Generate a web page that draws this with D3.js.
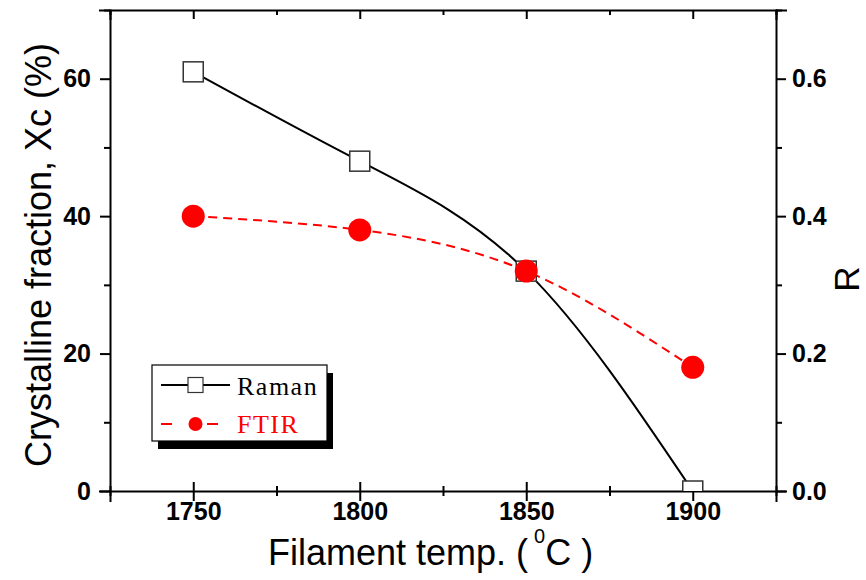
<!DOCTYPE html>
<html>
<head>
<meta charset="utf-8">
<script src="https://d3js.org/d3.v7.min.js"></script>
<style>
  body { margin: 0; background: #fff; }
  svg { display: block; }
  .tick text { font-family: Arial, "Liberation Sans", sans-serif; font-weight: bold; font-size: 25px; fill: #000; }
  .axis path, .axis line { stroke: #000; stroke-width: 2; }
  .title { font-family: Arial, "Liberation Sans", sans-serif; fill: #000; }
  .leg { font-family: "Times New Roman", "Liberation Serif", serif; font-size: 26px; letter-spacing: 1.5px; }
</style>
</head>
<body>
<svg width="866" height="580"></svg>
<script>
// data
var temps = [1750, 1800, 1850, 1900];
var ramanXc = [61, 48, 32, 0];
var ftirR = [0.40, 0.38, 0.32, 0.18];
var xTicks = [1750, 1800, 1850, 1900];
var xMinor = [1725, 1775, 1825, 1875, 1925];
var yLeftTicks = [0, 20, 40, 60];
var yLeftMinor = [10, 30, 50, 70];
var yRightTicks = [0, 0.2, 0.4, 0.6];
var yRightMinor = [0.1, 0.3, 0.5, 0.7];
var seriesNames = ["Raman", "FTIR"];

var svg = d3.select("svg");
var margin = { top: 10, right: 90, bottom: 89, left: 110 };
var W = 866 - margin.left - margin.right;
var H = 580 - margin.top - margin.bottom;

var x = d3.scaleLinear().domain([1725, 1925]).range([0, W]);
var yL = d3.scaleLinear().domain([0, 70]).range([H, 0]);
var yR = d3.scaleLinear().domain([0, 0.7]).range([H, 0]);

var g = svg.append("g").attr("transform", translate(margin.left, margin.top));

g.append("clipPath").attr("id", "clip")
  .append("rect").attr("width", W).attr("height", H);

// minor ticks
function minor(axisFn, vals, size) {
  return axisFn.tickValues(vals).tickSize(size).tickFormat("");
}

// bottom axis: ticks cross the line
var bx = g.append("g").attr("class", "axis").attr("transform", translate(0, H))
  .call(d3.axisBottom(x).tickValues(xTicks).tickSize(10).tickPadding(1).tickFormat(d3.format("d")));
bx.selectAll(".tick line").attr("y1", -9);
var bxm = g.append("g").attr("class", "axis").attr("transform", translate(0, H))
  .call(minor(d3.axisBottom(x), xMinor, 5));
bxm.selectAll(".tick line").attr("y1", -5);
bxm.select("path").remove();

// top axis: ticks point inward
g.append("g").attr("class", "axis")
  .call(d3.axisTop(x).tickValues(xTicks).tickSize(-9).tickFormat(""));
g.append("g").attr("class", "axis")
  .call(minor(d3.axisTop(x), xMinor, -5)).select("path").remove();

// left axis
g.append("g").attr("class", "axis")
  .call(d3.axisLeft(yL).tickValues(yLeftTicks).tickSize(10).tickPadding(9));
g.append("g").attr("class", "axis")
  .call(minor(d3.axisLeft(yL), yLeftMinor, 6)).select("path").remove();

// right axis
g.append("g").attr("class", "axis").attr("transform", translate(W, 0))
  .call(d3.axisRight(yR).tickValues(yRightTicks).tickSize(10).tickPadding(6).tickFormat(d3.format(".1f")));
g.append("g").attr("class", "axis").attr("transform", translate(W, 0))
  .call(minor(d3.axisRight(yR), yRightMinor, 6)).select("path").remove();

g.selectAll(".axis path.domain").attr("stroke-linecap", "square");

// series
var plot = g.append("g").attr("clip-path", "url(#clip)");
var raman = temps.map(function(t, i) { return { t: t, v: ramanXc[i] }; });
var ftir = temps.map(function(t, i) { return { t: t, v: ftirR[i] }; });

plot.append("path").datum(raman)
  .attr("fill", "none").attr("stroke", "#000").attr("stroke-width", 2)
  .attr("d", d3.line().curve(d3.curveNatural).x(function(d) { return x(d.t); }).y(function(d) { return yL(d.v); }));
plot.append("path").datum(ftir)
  .attr("fill", "none").attr("stroke", "#ff0000").attr("stroke-width", 2).attr("stroke-dasharray", "9,6")
  .attr("d", d3.line().curve(d3.curveNatural).x(function(d) { return x(d.t); }).y(function(d) { return yR(d.v); }));

plot.selectAll(".sq").data(raman).enter().append("rect")
  .attr("x", function(d) { return x(d.t) - 10; })
  .attr("y", function(d) { return yL(d.v) - 10; })
  .attr("width", 20).attr("height", 20)
  .attr("fill", "#fff").attr("stroke", "#333").attr("stroke-width", 1.5);
plot.selectAll(".dot").data(ftir).enter().append("circle")
  .attr("cx", function(d) { return x(d.t); })
  .attr("cy", function(d) { return yR(d.v); })
  .attr("r", 11.5).attr("fill", "#ff0000");

// legend
var lg = g.append("g").attr("transform", translate(42, 355));
lg.append("rect").attr("x", 6).attr("y", 8).attr("width", 175).attr("height", 76).attr("fill", "#000");
lg.append("rect").attr("x", 0).attr("y", 0).attr("width", 175).attr("height", 76)
  .attr("fill", "#fff").attr("stroke", "#000").attr("stroke-width", 1.2);
lg.append("line").attr("x1", 9).attr("x2", 78).attr("y1", 20).attr("y2", 20).attr("stroke", "#000").attr("stroke-width", 2);
lg.append("rect").attr("x", 36).attr("y", 12.5).attr("width", 15).attr("height", 15)
  .attr("fill", "#fff").attr("stroke", "#333").attr("stroke-width", 1.2);
lg.append("line").attr("x1", 9).attr("x2", 66).attr("y1", 59).attr("y2", 59)
  .attr("stroke", "#ff0000").attr("stroke-width", 2).attr("stroke-dasharray", "11,35,11,100");
lg.append("circle").attr("cx", 43.5).attr("cy", 59).attr("r", 7).attr("fill", "#ff0000");
lg.append("text").attr("class", "leg").attr("x", 85).attr("y", 30).attr("fill", "#000").text(seriesNames[0]);
lg.append("text").attr("class", "leg").attr("x", 85).attr("y", 68).attr("fill", "#ff0000").text(seriesNames[1]);

// axis titles
svg.append("text").attr("class", "title")
  .attr("transform", "translate(51,255) rotate(-90)")
  .attr("text-anchor", "middle").attr("font-size", 36)
  .text("Crystalline fraction, Xc (%)");
var xt = svg.append("text").attr("class", "title")
  .attr("x", 268).attr("y", 565)
  .attr("font-size", 36);
xt.append("tspan").text("Filament temp. (");
xt.append("tspan").attr("font-size", 20).attr("dx", 6).attr("dy", -22).text("0");
xt.append("tspan").attr("dy", 22).text("C )");
svg.append("text").attr("class", "title")
  .attr("transform", "translate(859,279) rotate(-90)")
  .attr("text-anchor", "middle").attr("font-size", 35)
  .text("R");

function translate(a, b) { return "translate(" + a + "," + b + ")"; }
</script>
</body>
</html>
